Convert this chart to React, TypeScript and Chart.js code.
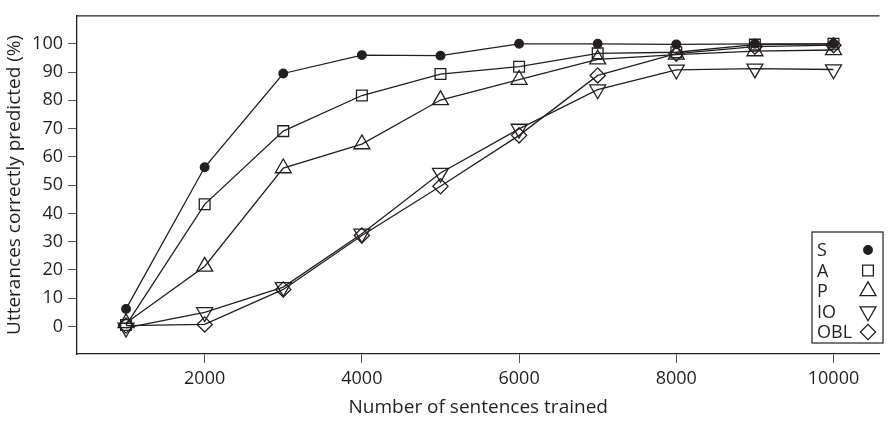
import React, { useEffect, useRef } from 'react';
import { Chart, registerables } from 'chart.js';

Chart.register(...registerables);

const sentences = [1000, 2000, 3000, 4000, 5000, 6000, 7000, 8000, 9000, 10000];
const sValues = [6.2, 56.3, 89.5, 96.0, 95.8, 100, 100, 99.8, 100, 100];
const aValues = [0.5, 43.2, 69.1, 81.7, 89.3, 91.9, 96.6, 97.0, 99.7, 100];
const pValues = [1.2, 21.2, 56.0, 64.5, 80.1, 87.3, 94.5, 96.2, 97.4, 97.8];
const ioValues = [-0.5, 5.0, 13.9, 32.8, 54.3, 69.9, 83.8, 90.8, 91.2, 90.9];
const oblValues = [0.3, 0.7, 13.1, 32.2, 49.6, 67.6, 88.8, 96.5, 99.0, 99.5];
const seriesLabels = ['S', 'A', 'P', 'IO', 'OBL'];
const xTicks = [2000, 4000, 6000, 8000, 10000];
const yTicks = [0, 10, 20, 30, 40, 50, 60, 70, 80, 90, 100];

const INK = '#231f20';
const FONT = '"Open Sans", sans-serif';

type Marker = { style: string; radius: number; rotation: number; fill: boolean };
const markers: Marker[] = [
  { style: 'circle', radius: 4.3, rotation: 0, fill: true },
  { style: 'rect', radius: 7.6, rotation: 0, fill: false },
  { style: 'triangle', radius: 9.2, rotation: 0, fill: false },
  { style: 'triangle', radius: 9.2, rotation: 180, fill: false },
  { style: 'rectRot', radius: 7.6, rotation: 0, fill: false },
];

function drawMarker(ctx: CanvasRenderingContext2D, m: Marker, x: number, y: number) {
  ctx.save();
  ctx.beginPath();
  const r = m.radius;
  if (m.style === 'circle') {
    ctx.arc(x, y, r, 0, Math.PI * 2);
  } else if (m.style === 'rect') {
    const s = Math.SQRT1_2 * r;
    ctx.rect(x - s, y - s, 2 * s, 2 * s);
  } else if (m.style === 'triangle') {
    const sign = m.rotation === 180 ? -1 : 1;
    for (let i = 0; i < 3; i++) {
      const a = (i * 2 * Math.PI) / 3;
      const px = x + Math.sin(a) * r * sign;
      const py = y - Math.cos(a) * r * sign;
      if (i === 0) ctx.moveTo(px, py);
      else ctx.lineTo(px, py);
    }
    ctx.closePath();
  } else if (m.style === 'rectRot') {
    ctx.moveTo(x - r, y);
    ctx.lineTo(x, y - r);
    ctx.lineTo(x + r, y);
    ctx.lineTo(x, y + r);
    ctx.closePath();
  }
  ctx.fillStyle = m.fill ? INK : '#ffffff';
  ctx.fill();
  ctx.strokeStyle = INK;
  ctx.lineWidth = 1.3;
  ctx.stroke();
  ctx.restore();
}

const framePlugin = {
  id: 'frameAndLegend',
  afterDraw(chart: any) {
    const { ctx, chartArea } = chart;
    ctx.save();
    ctx.strokeStyle = INK;
    ctx.lineWidth = 1.3;
    ctx.beginPath();
    ctx.moveTo(chartArea.left, chartArea.top);
    ctx.lineTo(chartArea.right, chartArea.top);
    ctx.stroke();

    const bx = 812, by = 232, bw = 71, bh = 111;
    ctx.fillStyle = '#ffffff';
    ctx.fillRect(bx, by, bw, bh);
    ctx.strokeStyle = INK;
    ctx.lineWidth = 1.2;
    ctx.strokeRect(bx, by, bw, bh);
    ctx.font = `18px ${FONT}`;
    ctx.textBaseline = 'middle';
    ctx.textAlign = 'left';
    ctx.fillStyle = INK;
    const rowH = 20.5;
    const firstY = 250;
    seriesLabels.forEach((lab, i) => {
      const y = firstY + i * rowH;
      ctx.fillText(lab, bx + 5, y + 1);
      drawMarker(ctx, markers[i], 868, y);
    });
    ctx.restore();
  },
};

export default function App() {
  const canvasRef = useRef<HTMLCanvasElement | null>(null);

  useEffect(() => {
    if (!canvasRef.current) return;
    const allValues = [sValues, aValues, pValues, ioValues, oblValues];
    const datasets = allValues.map((vals, i) => ({
      label: seriesLabels[i],
      data: vals.map((v, j) => ({ x: sentences[j], y: v })),
      borderColor: INK,
      borderWidth: 1.3,
      backgroundColor: markers[i].fill ? INK : 'rgba(255,255,255,0)',
      pointStyle: markers[i].style as any,
      pointRadius: markers[i].radius,
      pointRotation: markers[i].rotation,
      pointBorderColor: INK,
      pointBackgroundColor: markers[i].fill ? INK : 'rgba(255,255,255,0)',
      pointBorderWidth: 1.3,
      fill: false,
      tension: 0,
    }));

    const chart = new Chart(canvasRef.current, {
      type: 'line',
      data: { datasets },
      options: {
        animation: false,
        responsive: false,
        maintainAspectRatio: false,
        layout: { padding: { top: 10, left: 0, right: 0, bottom: 0 } },
        plugins: {
          legend: { display: false },
          tooltip: { enabled: false },
          title: { display: false },
        },
        scales: {
          x: {
            type: 'linear',
            min: 376,
            max: 10585,
            afterBuildTicks: (scale: any) => {
              scale.ticks = xTicks.map((v) => ({ value: v }));
            },
            afterFit: (scale: any) => {
              scale.height = 68;
            },
            grid: {
              display: true,
              drawOnChartArea: false,
              drawTicks: true,
              tickLength: 9,
              color: '#555555',
              lineWidth: 1,
            },
            border: { display: true, color: INK, width: 1.3 },
            ticks: {
              color: INK,
              font: { family: FONT, size: 18 },
              padding: 5,
              maxRotation: 0,
              autoSkip: false,
              callback: (v: any) => String(v),
            },
            title: {
              display: true,
              text: 'Number of sentences trained',
              color: INK,
              font: { family: FONT, size: 19 },
              padding: { top: 0, bottom: 3 },
            },
          },
          y: {
            type: 'linear',
            min: -9.75,
            max: 109.9,
            afterBuildTicks: (scale: any) => {
              scale.ticks = yTicks.map((v) => ({ value: v }));
            },
            afterFit: (scale: any) => {
              scale.width = 77;
            },
            grid: {
              display: true,
              drawOnChartArea: false,
              drawTicks: true,
              tickLength: 9,
              color: '#555555',
              lineWidth: 1,
            },
            border: { display: true, color: INK, width: 1.3 },
            ticks: {
              color: INK,
              font: { family: FONT, size: 18 },
              padding: 5,
              autoSkip: false,
              callback: (v: any) => String(v),
            },
            title: {
              display: true,
              text: 'Utterances correctly predicted (%)',
              color: INK,
              font: { family: FONT, size: 19 },
              padding: { top: 3.5, bottom: 0 },
            },
          },
        },
      },
      plugins: [framePlugin],
    });
    return () => chart.destroy();
  }, []);

  return (
    <div style={{ position: 'absolute', left: 0, top: 0, width: 890, height: 422, background: '#ffffff' }}>
      <canvas ref={canvasRef} width={890} height={422} style={{ display: 'block', width: 890, height: 422 }} />
    </div>
  );
}
